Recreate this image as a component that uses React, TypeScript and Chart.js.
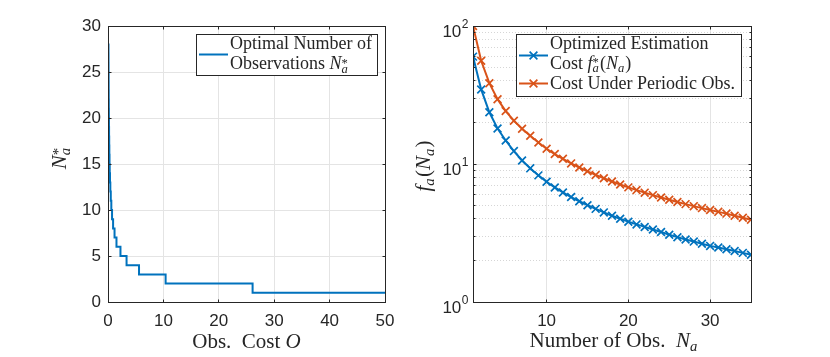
import React, { useEffect, useRef } from 'react';
import { Chart, registerables } from 'chart.js';

Chart.register(...registerables);

// ---------------- data ----------------
// Left panel: observation cost where each optimal number of observations begins
const obsCostStarts = [0, 0.087, 0.094, 0.1, 0.11, 0.12, 0.13, 0.143, 0.157, 0.174, 0.193, 0.216, 0.24, 0.275, 0.31, 0.36, 0.42, 0.5, 0.6, 0.73, 0.92, 1.18, 1.53, 2.25, 3.35, 5.6, 10.4, 26.1, 50];
const optimalLevels = [28, 27, 26, 25, 24, 23, 22, 21, 20, 19, 18, 17, 16, 15, 14, 13, 12, 11, 10, 9, 8, 7, 6, 5, 4, 3, 2, 1, 1];
const leftXTicks = [0, 10, 20, 30, 40, 50];
const leftYTicks = [0, 5, 10, 15, 20, 25, 30];

// Right panel
const numObs = [1, 2, 3, 4, 5, 6, 7, 8, 9, 10, 11, 12, 13, 14, 15, 16, 17, 18, 19, 20, 21, 22, 23, 24, 25, 26, 27, 28, 29, 30, 31, 32, 33, 34, 35];
const optimizedCost = [60, 34.7, 23.7, 18.1, 14.8, 12.4, 10.6, 9.3, 8.27, 7.44, 6.76, 6.22, 5.76, 5.37, 5.03, 4.73, 4.46, 4.22, 4.01, 3.82, 3.65, 3.5, 3.35, 3.22, 3.07, 2.95, 2.84, 2.74, 2.64, 2.55, 2.48, 2.41, 2.34, 2.27, 2.2];
const periodicCost = [100, 56, 38.5, 29.5, 24.2, 20.6, 18.0, 16.0, 14.3, 12.9, 11.8, 10.9, 10.1, 9.43, 8.85, 8.33, 7.88, 7.47, 7.1, 6.77, 6.47, 6.2, 5.95, 5.72, 5.5, 5.3, 5.12, 4.95, 4.79, 4.64, 4.5, 4.37, 4.22, 4.08, 3.95];
const rightXTicks = [10, 20, 30];
const rightYTicks = [1, 10, 100];
const rightYExponents = ['0', '1', '2'];
const rightYMinor = [2, 3, 4, 5, 6, 7, 8, 9, 20, 30, 40, 50, 60, 70, 80, 90];

// ---------------- styles ----------------
const SANS = '"Liberation Sans", Arial, Helvetica, sans-serif';
const SERIF = '"Liberation Serif", "Times New Roman", serif';
const AXIS = '#262626';
const GRID = '#e4e4e4';
const MINOR_GRID = '#d6d6d6';
const BLUE = '#0072BD';
const ORANGE = '#D95319';

type Part = { t?: string; it?: boolean; sup?: string; sub?: string; supIt?: boolean; subIt?: boolean; supRaise?: number };

function drawRich(ctx: CanvasRenderingContext2D, parts: Part[], x: number, baseline: number, size: number, align: 'left' | 'center') {
  const sSize = size * 0.7;
  const font = (it: boolean, s: number) => `${it ? 'italic ' : ''}${s}px ${SERIF}`;
  const widths = parts.map((p) => {
    if (p.t !== undefined) {
      ctx.font = font(!!p.it, size);
      return ctx.measureText(p.t).width;
    }
    let w = 0;
    if (p.sup) { ctx.font = font(!!p.supIt, sSize); w = Math.max(w, ctx.measureText(p.sup).width); }
    if (p.sub) { ctx.font = font(!!p.subIt, sSize); w = Math.max(w, ctx.measureText(p.sub).width); }
    return w + size * 0.06;
  });
  const total = widths.reduce((a, b) => a + b, 0);
  let cx = align === 'center' ? x - total / 2 : x;
  ctx.textAlign = 'left';
  ctx.textBaseline = 'alphabetic';
  ctx.fillStyle = AXIS;
  parts.forEach((p, i) => {
    if (p.t !== undefined) {
      ctx.font = font(!!p.it, size);
      ctx.fillText(p.t, cx, baseline);
    } else {
      if (p.sup) {
        ctx.font = font(!!p.supIt, sSize);
        ctx.fillText(p.sup, cx, baseline - size * (p.supRaise ?? 0.38));
      }
      if (p.sub) {
        ctx.font = font(!!p.subIt, sSize);
        ctx.fillText(p.sub, cx, baseline + size * 0.2);
      }
    }
    cx += widths[i];
  });
}

const al = (px: number) => Math.round(px - 0.5) + 0.5;

function drawBoxAndTicks(chart: any, xTicks: number[], yTicks: number[], yMinor: number[] = []) {
  const { ctx, chartArea: a, scales } = chart;
  const L = al(a.left), R = al(a.right), T = al(a.top), B = al(a.bottom);
  ctx.save();
  ctx.strokeStyle = AXIS;
  ctx.lineWidth = 1;
  ctx.beginPath();
  const tl = 3;
  xTicks.forEach((v) => {
    const x = al(scales.x.getPixelForValue(v));
    ctx.moveTo(x, B); ctx.lineTo(x, B - tl);
    ctx.moveTo(x, T); ctx.lineTo(x, T + tl);
  });
  [...yTicks, ...yMinor].forEach((v, i) => {
    const y = al(scales.y.getPixelForValue(v));
    const len = i < yTicks.length ? tl : 2;
    ctx.moveTo(L, y); ctx.lineTo(L + len, y);
    ctx.moveTo(R, y); ctx.lineTo(R - len, y);
  });
  ctx.stroke();
  ctx.strokeRect(L, T, R - L, B - T);
  ctx.restore();
}

function drawCross(ctx: CanvasRenderingContext2D, x: number, y: number, r: number, color: string) {
  const d = r * Math.SQRT1_2;
  ctx.save();
  ctx.strokeStyle = color;
  ctx.lineWidth = 1.7;
  ctx.beginPath();
  ctx.moveTo(x - d, y - d); ctx.lineTo(x + d, y + d);
  ctx.moveTo(x - d, y + d); ctx.lineTo(x + d, y - d);
  ctx.stroke();
  ctx.restore();
}

const leftDecor = {
  id: 'leftDecor',
  afterDraw(chart: any) {
    const ctx: CanvasRenderingContext2D = chart.ctx;
    drawBoxAndTicks(chart, leftXTicks, leftYTicks);
    // legend
    ctx.save();
    ctx.fillStyle = '#ffffff';
    ctx.fillRect(197, 34, 181, 41);
    ctx.strokeStyle = AXIS;
    ctx.lineWidth = 1;
    ctx.strokeRect(196.5, 34.5, 181, 41);
    ctx.strokeStyle = BLUE;
    ctx.lineWidth = 2;
    ctx.beginPath();
    ctx.moveTo(199, 54.5);
    ctx.lineTo(228, 54.5);
    ctx.stroke();
    drawRich(ctx, [{ t: 'Optimal Number of' }], 230, 49, 18, 'left');
    drawRich(ctx, [{ t: 'Observations ' }, { t: 'N', it: true }, { sup: '*', sub: 'a', subIt: true, supRaise: 0.12 }], 230, 69, 18, 'left');
    // axis titles
    drawRich(ctx, [{ t: 'Obs.  Cost ' }, { t: 'O', it: true }], 246.5, 348, 21, 'center');
    ctx.translate(66, 158);
    ctx.rotate(-Math.PI / 2);
    drawRich(ctx, [{ t: 'N', it: true }, { sup: '*', sub: 'a', subIt: true, supRaise: 0.14 }], 0, 0, 21, 'center');
    ctx.restore();
  },
};

const rightDecor = {
  id: 'rightDecor',
  beforeDatasetsDraw(chart: any) {
    const { ctx, chartArea: a, scales } = chart;
    ctx.save();
    ctx.lineWidth = 1;
    ctx.strokeStyle = MINOR_GRID;
    ctx.setLineDash([1, 2]);
    ctx.beginPath();
    rightYMinor.forEach((v) => {
      const y = al(scales.y.getPixelForValue(v));
      ctx.moveTo(a.left, y); ctx.lineTo(a.right, y);
    });
    ctx.stroke();
    ctx.setLineDash([]);
    ctx.strokeStyle = GRID;
    ctx.beginPath();
    rightYTicks.forEach((v) => {
      const y = al(scales.y.getPixelForValue(v));
      ctx.moveTo(a.left, y); ctx.lineTo(a.right, y);
    });
    ctx.stroke();
    ctx.restore();
  },
  afterDraw(chart: any) {
    const ctx: CanvasRenderingContext2D = chart.ctx;
    const { scales } = chart;
    drawBoxAndTicks(chart, rightXTicks, rightYTicks, rightYMinor);
    ctx.save();
    // y tick labels with exponents
    rightYTicks.forEach((v, i) => {
      const y = scales.y.getPixelForValue(v);
      ctx.fillStyle = AXIS;
      ctx.textBaseline = 'alphabetic';
      ctx.font = `12px ${SANS}`;
      const ew = ctx.measureText(rightYExponents[i]).width;
      ctx.textAlign = 'right';
      ctx.fillText(rightYExponents[i], 53.5, y + 2);
      ctx.font = `17px ${SANS}`;
      ctx.fillText('10', 53.5 - ew - 0.5, y + 11);
    });
    // legend
    ctx.fillStyle = '#ffffff';
    ctx.fillRect(101, 34, 225, 62);
    ctx.strokeStyle = AXIS;
    ctx.lineWidth = 1;
    ctx.strokeRect(101.5, 34.5, 225, 62);
    const entries = [
      { color: BLUE, y: 55.5 },
      { color: ORANGE, y: 83.5 },
    ];
    entries.forEach((e) => {
      ctx.strokeStyle = e.color;
      ctx.lineWidth = 2;
      ctx.beginPath();
      ctx.moveTo(104, e.y);
      ctx.lineTo(133, e.y);
      ctx.stroke();
      drawCross(ctx, 118.5, e.y, 5.5, e.color);
    });
    drawRich(ctx, [{ t: 'Optimized Estimation' }], 135, 49, 18, 'left');
    drawRich(ctx, [{ t: 'Cost ' }, { t: 'f', it: true }, { sup: '*', sub: 'a', subIt: true, supRaise: 0.12 }, { t: '(' }, { t: 'N', it: true }, { sub: 'a', subIt: true }, { t: ')' }], 135, 68.5, 18, 'left');
    drawRich(ctx, [{ t: 'Cost Under Periodic Obs.' }], 135, 89, 18, 'left');
    // axis titles
    drawRich(ctx, [{ t: 'Number of Obs.  ' }, { t: 'N', it: true }, { sub: 'a', subIt: true }], 199, 347, 21, 'center');
    ctx.translate(15, 166);
    ctx.rotate(-Math.PI / 2);
    drawRich(ctx, [{ t: 'f', it: true }, { sub: 'a', subIt: true }, { t: '(' }, { t: 'N', it: true }, { sub: 'a', subIt: true }, { t: ')' }], 0, 0, 21, 'center');
    ctx.restore();
  },
};

const tickFont = { family: SANS, size: 17 };

export default function App() {
  const leftRef = useRef<HTMLCanvasElement>(null);
  const rightRef = useRef<HTMLCanvasElement>(null);

  useEffect(() => {
    const left = new Chart(leftRef.current as HTMLCanvasElement, {
      type: 'line',
      data: {
        datasets: [
          {
            data: obsCostStarts.map((x, i) => ({ x, y: optimalLevels[i] })),
            borderColor: BLUE,
            backgroundColor: BLUE,
            borderWidth: 2,
            pointRadius: 0,
            stepped: 'before',
            fill: false,
          },
        ],
      },
      options: {
        animation: false,
        responsive: false,
        events: [],
        layout: { padding: { left: 0, right: 30, top: 26, bottom: 0 } },
        plugins: { legend: { display: false }, tooltip: { enabled: false } },
        scales: {
          x: {
            type: 'linear',
            min: 0,
            max: 50,
            afterBuildTicks: (s: any) => { s.ticks = leftXTicks.map((v) => ({ value: v })); },
            afterFit: (s: any) => { s.height = 55; },
            grid: { color: GRID, drawTicks: false },
            border: { display: false },
            ticks: { font: tickFont, color: AXIS, padding: 9, maxRotation: 0, autoSkip: false },
          },
          y: {
            type: 'linear',
            min: 0,
            max: 30,
            afterBuildTicks: (s: any) => { s.ticks = leftYTicks.map((v) => ({ value: v })); },
            afterFit: (s: any) => { s.width = 108; },
            grid: { color: GRID, drawTicks: false },
            border: { display: false },
            ticks: { font: tickFont, color: AXIS, padding: 7, autoSkip: false },
          },
        },
      } as any,
      plugins: [leftDecor],
    });

    const right = new Chart(rightRef.current as HTMLCanvasElement, {
      type: 'line',
      data: {
        datasets: [
          {
            data: numObs.map((n, i) => ({ x: n, y: optimizedCost[i] })),
            borderColor: BLUE,
            backgroundColor: BLUE,
            pointBorderColor: BLUE,
            borderWidth: 2,
            pointStyle: 'crossRot',
            pointRadius: 5.5,
            pointBorderWidth: 1.7,
            fill: false,
            order: 2,
          },
          {
            data: numObs.map((n, i) => ({ x: n, y: periodicCost[i] })),
            borderColor: ORANGE,
            backgroundColor: ORANGE,
            pointBorderColor: ORANGE,
            borderWidth: 2,
            pointStyle: 'crossRot',
            pointRadius: 5.5,
            pointBorderWidth: 1.7,
            fill: false,
            order: 1,
          },
        ],
      },
      options: {
        animation: false,
        responsive: false,
        events: [],
        layout: { padding: { left: 0, right: 79, top: 26, bottom: 0 } },
        plugins: { legend: { display: false }, tooltip: { enabled: false } },
        scales: {
          x: {
            type: 'linear',
            min: 1,
            max: 35,
            afterBuildTicks: (s: any) => { s.ticks = rightXTicks.map((v) => ({ value: v })); },
            afterFit: (s: any) => { s.height = 55; },
            grid: { color: GRID, drawTicks: false },
            border: { display: false },
            ticks: { font: tickFont, color: AXIS, padding: 9, maxRotation: 0, autoSkip: false },
          },
          y: {
            type: 'logarithmic',
            min: 1,
            max: 100,
            afterFit: (s: any) => { s.width = 58; },
            grid: { display: false, drawTicks: false },
            border: { display: false },
            ticks: { display: false },
          },
        },
      } as any,
      plugins: [rightDecor],
    });

    return () => {
      left.destroy();
      right.destroy();
    };
  }, []);

  return (
    <div style={{ position: 'absolute', left: 0, top: 0, width: 830, height: 357, background: '#ffffff' }}>
      <canvas ref={leftRef} width={415} height={357} style={{ position: 'absolute', left: 0, top: 0, width: 415, height: 357 }} />
      <canvas ref={rightRef} width={415} height={357} style={{ position: 'absolute', left: 415, top: 0, width: 415, height: 357 }} />
    </div>
  );
}
